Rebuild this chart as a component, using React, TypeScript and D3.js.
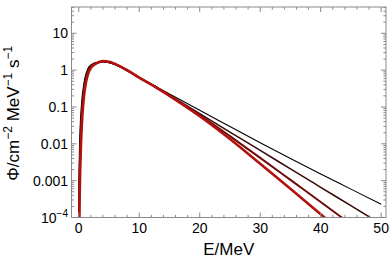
import React from 'react';
import * as d3 from 'd3';

// energies (MeV) at which the curves were read
const energy = [0.02, 0.05, 0.1, 0.2, 0.3, 0.5, 0.75, 1, 1.5, 2, 2.5, 3, 4, 5, 6, 8, 10, 12.5, 15, 20, 25, 30, 35, 40, 45, 50];

// flux values
const fluxBlack = [1.58e-4, 1.12e-3, 5.0e-3, 0.0214, 0.05, 0.148, 0.339, 0.603, 1.096, 1.38, 1.55, 1.62, 1.68, 1.585, 1.41, 0.955, 0.617, 0.376, 0.226, 0.0813, 0.0295, 0.0107, 3.98e-3, 1.51e-3, 5.89e-4, 2.29e-4];
const fluxDark = [2.0e-5, 2.0e-4, 1.26e-3, 7.76e-3, 0.0224, 0.0891, 0.245, 0.479, 0.977, 1.29, 1.5, 1.6, 1.71, 1.62, 1.44, 0.971, 0.624, 0.372, 0.209, 0.0661, 0.0209, 6.61e-3, 2.09e-3, 6.61e-4, 2.09e-4, 6.61e-5];
const fluxDarkRed = [2.5e-6, 3.55e-5, 3.16e-4, 2.75e-3, 0.01, 0.0525, 0.174, 0.38, 0.851, 1.23, 1.45, 1.585, 1.73, 1.66, 1.46, 0.984, 0.631, 0.367, 0.204, 0.0603, 0.0162, 4.17e-3, 1.05e-3, 2.63e-4, 6.61e-5, 1.66e-5];
const fluxRed = [3.2e-7, 6.3e-6, 7.9e-5, 1.0e-3, 4.47e-3, 0.0316, 0.126, 0.302, 0.759, 1.148, 1.38, 1.55, 1.76, 1.7, 1.48, 1.0, 0.631, 0.363, 0.2, 0.0562, 0.0135, 2.88e-3, 6.03e-4, 1.23e-4, 2.5e-5, 5.0e-6];

const seriesColors = ['#000000', '#3a0806', '#6e0c0a', '#b3110e'];
const seriesWidths = [1.1, 1.5, 2.0, 2.6];

const xTicks = [0, 10, 20, 30, 40, 50];
const yTicks = [10, 1, 0.1, 0.01, 0.001, 1e-4];
const yTickLabels = ['10', '1', '0.1', '0.01', '0.001', '10'];

const W = 390;
const H = 260;
const left = 71.5, right = 386, top = 7, bottom = 217.5;
const frameColor = '#8a8a8a';
const font = '"Liberation Sans", Arial, Helvetica, sans-serif';

export default function App() {
  const x = d3.scaleLinear().domain([-1.2, 50.8]).range([left, right]);
  const y = d3.scaleLog().domain([1e-4, 51.8]).range([bottom, top]);

  const line = d3
    .line<number>()
    .x((_, i) => x(energy[i]))
    .y((d) => y(d))
    .curve(d3.curveMonotoneX);

  const series = [fluxBlack, fluxDark, fluxDarkRed, fluxRed];

  // minor ticks
  const xMinor = d3.range(0, 51, 2).filter((v) => v % 10 !== 0);
  const yMinor: number[] = [];
  for (let e = -4; e <= 1; e++) {
    for (let m = 2; m <= 9; m++) {
      const v = m * Math.pow(10, e);
      if (v < 51.8) yMinor.push(v);
    }
  }

  const major = 5;
  const minor = 2.6;

  return (
    <svg width={W} height={H} style={{ position: 'absolute', left: 0, top: 0, background: '#fff' }}>
      <defs>
        <clipPath id="plot">
          <rect x={left} y={top} width={right - left} height={bottom - top} />
        </clipPath>
      </defs>

      <g clipPath="url(#plot)" fill="none" strokeLinejoin="round">
        {series.map((s, i) => (
          <path key={i} d={line(s) ?? ''} stroke={seriesColors[i]} strokeWidth={seriesWidths[i]} />
        ))}
      </g>

      {/* frame */}
      <rect x={left} y={top} width={right - left} height={bottom - top} fill="none" stroke={frameColor} strokeWidth={1} />

      {/* x ticks */}
      <g stroke={frameColor} strokeWidth={1}>
        {xTicks.map((t) => (
          <g key={'xt' + t}>
            <line x1={x(t)} x2={x(t)} y1={bottom} y2={bottom - major} />
            <line x1={x(t)} x2={x(t)} y1={top} y2={top + major} />
          </g>
        ))}
        {xMinor.map((t) => (
          <g key={'xm' + t}>
            <line x1={x(t)} x2={x(t)} y1={bottom} y2={bottom - minor} />
            <line x1={x(t)} x2={x(t)} y1={top} y2={top + minor} />
          </g>
        ))}
        {yTicks.map((t) => (
          <g key={'yt' + t}>
            <line x1={left} x2={left + major} y1={y(t)} y2={y(t)} />
            <line x1={right} x2={right - major} y1={y(t)} y2={y(t)} />
          </g>
        ))}
        {yMinor.map((t) => (
          <g key={'ym' + t}>
            <line x1={left} x2={left + minor} y1={y(t)} y2={y(t)} />
            <line x1={right} x2={right - minor} y1={y(t)} y2={y(t)} />
          </g>
        ))}
      </g>

      {/* tick labels */}
      <g fontFamily={font} fontSize={14} fill="#000">
        {xTicks.map((t) => (
          <text key={'xl' + t} x={x(t)} y={233} textAnchor="middle">
            {t}
          </text>
        ))}
        {yTicks.map((t, i) => (
          <text key={'yl' + t} x={68} y={y(t) + 5} textAnchor="end">
            {yTickLabels[i]}
            {t === 1e-4 && (
              <tspan fontSize={10} dy={-6}>
                −4
              </tspan>
            )}
          </text>
        ))}
      </g>

      {/* axis labels */}
      <text x={(left + right) / 2} y={255} textAnchor="middle" fontFamily={font} fontSize={17}>
        E/MeV
      </text>
      <text
        transform={`translate(18.5, ${(top + bottom) / 2 + 1}) rotate(-90)`}
        textAnchor="middle"
        fontFamily={font}
        fontSize={17}
      >
        Φ/cm
        <tspan fontSize={12} dy={-7}>−2</tspan>
        <tspan dy={7}> MeV</tspan>
        <tspan fontSize={12} dy={-7}>−1</tspan>
        <tspan dy={7}> s</tspan>
        <tspan fontSize={12} dy={-7}>−1</tspan>
      </text>
    </svg>
  );
}
